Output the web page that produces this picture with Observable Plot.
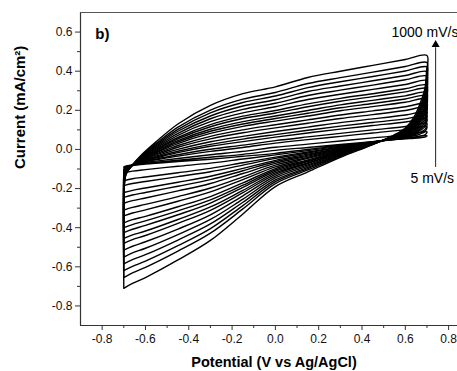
<!DOCTYPE html>
<html><head><meta charset="utf-8">
<script src="https://cdn.jsdelivr.net/npm/d3@7"></script>
<script src="https://cdn.jsdelivr.net/npm/@observablehq/plot@0.6"></script>
<style>html,body{margin:0;padding:0;background:#fff;overflow:hidden} svg{display:block}</style>
</head><body><div id="chart"></div>
<script>
// scan rates (mV/s), slowest to fastest
const scanRates = [5, 10, 20, 30, 40, 50, 60, 70, 80, 90, 100, 150, 200, 300, 400, 500, 600, 700, 800, 1000];

// potentials (V) of the forward (anodic) and reverse (cathodic) sweeps
const forwardE = [-0.7, -0.698, -0.69, -0.66, -0.62, -0.55, -0.45, -0.3, -0.15, 0, 0.15, 0.3, 0.45, 0.6, 0.7];
const reverseE = [0.7, 0.698, 0.69, 0.67, 0.64, 0.6, 0.55, 0.45, 0.3, 0.15, 0, -0.15, -0.3, -0.45, -0.6, -0.66, -0.7];

// current density (mA/cm2) on the forward sweep, one row per scan rate
const anodic = [
  [-0.09, -0.088, -0.085, -0.08, -0.072, -0.065, -0.055, -0.04, -0.025, -0.005, 0.01, 0.025, 0.04, 0.055, 0.07],
  [-0.12, -0.093, -0.087, -0.08, -0.07, -0.06, -0.046, -0.027, -0.01, 0.011, 0.027, 0.043, 0.059, 0.074, 0.09],
  [-0.16, -0.101, -0.09, -0.08, -0.067, -0.053, -0.034, -0.01, 0.01, 0.032, 0.05, 0.067, 0.084, 0.101, 0.116],
  [-0.185, -0.105, -0.092, -0.08, -0.066, -0.049, -0.027, 0.001, 0.022, 0.045, 0.064, 0.082, 0.1, 0.117, 0.133],
  [-0.22, -0.112, -0.095, -0.08, -0.063, -0.043, -0.016, 0.016, 0.04, 0.063, 0.084, 0.104, 0.122, 0.14, 0.156],
  [-0.245, -0.116, -0.096, -0.08, -0.062, -0.039, -0.009, 0.026, 0.053, 0.076, 0.098, 0.119, 0.138, 0.156, 0.173],
  [-0.275, -0.121, -0.098, -0.08, -0.06, -0.034, 0.0, 0.039, 0.067, 0.092, 0.114, 0.137, 0.156, 0.176, 0.192],
  [-0.31, -0.128, -0.101, -0.08, -0.057, -0.028, 0.011, 0.054, 0.085, 0.11, 0.134, 0.158, 0.178, 0.199, 0.216],
  [-0.34, -0.133, -0.103, -0.08, -0.055, -0.023, 0.02, 0.067, 0.1, 0.126, 0.151, 0.176, 0.197, 0.218, 0.235],
  [-0.375, -0.14, -0.106, -0.08, -0.053, -0.017, 0.03, 0.082, 0.118, 0.145, 0.171, 0.198, 0.219, 0.241, 0.259],
  [-0.4, -0.144, -0.108, -0.08, -0.051, -0.013, 0.038, 0.093, 0.13, 0.158, 0.185, 0.213, 0.235, 0.258, 0.275],
  [-0.425, -0.149, -0.109, -0.08, -0.049, -0.008, 0.045, 0.103, 0.142, 0.171, 0.199, 0.228, 0.251, 0.274, 0.291],
  [-0.455, -0.154, -0.112, -0.08, -0.047, -0.003, 0.054, 0.116, 0.158, 0.186, 0.218, 0.246, 0.27, 0.294, 0.311],
  [-0.48, -0.158, -0.113, -0.08, -0.046, 0.001, 0.061, 0.127, 0.17, 0.199, 0.233, 0.261, 0.285, 0.31, 0.328],
  [-0.515, -0.165, -0.116, -0.08, -0.043, 0.007, 0.072, 0.142, 0.187, 0.218, 0.255, 0.282, 0.307, 0.332, 0.351],
  [-0.55, -0.171, -0.118, -0.08, -0.041, 0.013, 0.082, 0.157, 0.205, 0.236, 0.276, 0.303, 0.329, 0.356, 0.374],
  [-0.585, -0.177, -0.121, -0.08, -0.038, 0.019, 0.093, 0.171, 0.222, 0.254, 0.296, 0.324, 0.351, 0.378, 0.397],
  [-0.62, -0.184, -0.123, -0.08, -0.036, 0.025, 0.103, 0.187, 0.24, 0.273, 0.316, 0.346, 0.373, 0.401, 0.421],
  [-0.655, -0.19, -0.126, -0.08, -0.034, 0.031, 0.114, 0.201, 0.257, 0.291, 0.337, 0.367, 0.395, 0.424, 0.444],
  [-0.71, -0.2, -0.13, -0.08, -0.03, 0.04, 0.13, 0.225, 0.285, 0.32, 0.368, 0.4, 0.43, 0.46, 0.48]
];

// current density (mA/cm2) on the reverse sweep, one row per scan rate
const cathodic = [
  [0.07, 0.066, 0.063, 0.06, 0.057, 0.054, 0.05, 0.04, 0.02, 0.0, -0.02, -0.035, -0.05, -0.062, -0.075, -0.082, -0.09],
  [0.09, 0.082, 0.075, 0.069, 0.062, 0.057, 0.051, 0.039, 0.017, -0.006, -0.028, -0.049, -0.07, -0.086, -0.103, -0.111, -0.12],
  [0.116, 0.104, 0.091, 0.08, 0.069, 0.06, 0.053, 0.038, 0.013, -0.013, -0.039, -0.068, -0.097, -0.119, -0.141, -0.15, -0.16],
  [0.133, 0.117, 0.101, 0.088, 0.074, 0.063, 0.054, 0.038, 0.011, -0.018, -0.046, -0.08, -0.114, -0.139, -0.164, -0.174, -0.185],
  [0.156, 0.136, 0.115, 0.098, 0.08, 0.066, 0.055, 0.037, 0.007, -0.024, -0.056, -0.097, -0.137, -0.168, -0.197, -0.209, -0.22],
  [0.173, 0.15, 0.125, 0.105, 0.084, 0.068, 0.056, 0.036, 0.005, -0.029, -0.063, -0.109, -0.154, -0.188, -0.22, -0.233, -0.245],
  [0.192, 0.166, 0.137, 0.114, 0.089, 0.071, 0.058, 0.036, 0.002, -0.034, -0.071, -0.123, -0.174, -0.212, -0.248, -0.262, -0.275],
  [0.216, 0.185, 0.151, 0.124, 0.095, 0.074, 0.059, 0.035, -0.001, -0.041, -0.08, -0.14, -0.197, -0.241, -0.281, -0.296, -0.31],
  [0.235, 0.201, 0.163, 0.133, 0.101, 0.077, 0.06, 0.034, -0.004, -0.046, -0.089, -0.154, -0.217, -0.265, -0.309, -0.325, -0.34],
  [0.259, 0.22, 0.177, 0.143, 0.107, 0.08, 0.062, 0.033, -0.008, -0.053, -0.098, -0.171, -0.241, -0.293, -0.342, -0.359, -0.375],
  [0.275, 0.233, 0.187, 0.15, 0.111, 0.082, 0.063, 0.033, -0.01, -0.058, -0.105, -0.183, -0.258, -0.314, -0.365, -0.384, -0.4],
  [0.291, 0.246, 0.196, 0.157, 0.115, 0.084, 0.064, 0.032, -0.012, -0.062, -0.112, -0.194, -0.274, -0.334, -0.388, -0.408, -0.425],
  [0.311, 0.263, 0.209, 0.166, 0.121, 0.087, 0.065, 0.031, -0.015, -0.068, -0.12, -0.209, -0.294, -0.358, -0.417, -0.437, -0.455],
  [0.328, 0.276, 0.218, 0.173, 0.125, 0.089, 0.066, 0.031, -0.018, -0.072, -0.127, -0.221, -0.311, -0.378, -0.44, -0.461, -0.48],
  [0.351, 0.295, 0.232, 0.183, 0.131, 0.092, 0.067, 0.03, -0.021, -0.079, -0.136, -0.237, -0.334, -0.407, -0.472, -0.495, -0.515],
  [0.374, 0.314, 0.246, 0.194, 0.137, 0.096, 0.069, 0.029, -0.025, -0.085, -0.146, -0.254, -0.358, -0.435, -0.505, -0.529, -0.55],
  [0.397, 0.333, 0.26, 0.204, 0.143, 0.099, 0.07, 0.028, -0.028, -0.092, -0.156, -0.27, -0.381, -0.463, -0.538, -0.563, -0.585],
  [0.421, 0.352, 0.274, 0.214, 0.149, 0.102, 0.071, 0.027, -0.031, -0.098, -0.165, -0.287, -0.405, -0.492, -0.571, -0.598, -0.62],
  [0.444, 0.37, 0.288, 0.224, 0.155, 0.105, 0.073, 0.026, -0.035, -0.105, -0.175, -0.304, -0.428, -0.52, -0.603, -0.631, -0.655],
  [0.48, 0.4, 0.31, 0.24, 0.165, 0.11, 0.075, 0.025, -0.04, -0.115, -0.19, -0.33, -0.465, -0.565, -0.655, -0.685, -0.71]
];

// axis ticks
const xMajor = [-0.8, -0.6, -0.4, -0.2, 0, 0.2, 0.4, 0.6, 0.8];
const xMinor = [-0.7, -0.5, -0.3, -0.1, 0.1, 0.3, 0.5, 0.7];
const yMajor = [-0.8, -0.6, -0.4, -0.2, 0, 0.2, 0.4, 0.6];
const yMinor = [-0.7, -0.5, -0.3, -0.1, 0.1, 0.3, 0.5];

// annotations
const panelLabel = "b)";
const fastLabel = "1000 mV/s";
const slowLabel = "5 mV/s";
const xTitle = "Potential (V vs Ag/AgCl)";
const yTitle = "Current (mA/cm\u00B2)";

// build loop table
const rows = [];
scanRates.forEach((rate, i) => {
  forwardE.forEach((e, j) => rows.push({rate, E: e, I: anodic[i][j]}));
  reverseE.forEach((e, j) => { if (j > 0) rows.push({rate, E: e, I: cathodic[i][j]}); });
});

const fmt = d => d.toFixed(1);
const font = "'Liberation Sans', Arial, Helvetica, sans-serif";

const chart = Plot.plot({
  width: 457,
  height: 371,
  marginLeft: 80,
  marginRight: 0,
  marginTop: 12,
  marginBottom: 46,
  style: {fontFamily: font, background: "#fff", color: "#111"},
  x: {domain: [-0.9, 0.841]},
  y: {domain: [-0.9, 0.7]},
  marks: [
    Plot.line(rows, {x: "E", y: "I", z: "rate", stroke: "#000", strokeWidth: 1.4, curve: "catmull-rom"}),
    Plot.ruleX([-0.9], {stroke: "#333", strokeWidth: 1.2}),
    Plot.ruleY([-0.9], {stroke: "#333", strokeWidth: 1.2}),
    Plot.ruleY([0.7], {stroke: "#555", strokeWidth: 1.2}),
    Plot.axisX({ticks: xMajor, tickSize: 5, tickPadding: 4, tickFormat: fmt, fontSize: 12, label: null, stroke: "#333"}),
    Plot.axisX({ticks: xMinor, tickSize: 3, tickFormat: () => "", label: null, stroke: "#333"}),
    Plot.axisY({ticks: yMajor, tickSize: 5, tickPadding: 3, tickFormat: fmt, fontSize: 12, label: null, stroke: "#333"}),
    Plot.axisY({ticks: yMinor, tickSize: 3, tickFormat: () => "", label: null, stroke: "#333"}),
    Plot.text([yTitle], {frameAnchor: "left", dx: -60, rotate: -90, fontSize: 15, fontWeight: "bold", fill: "#000"}),
    Plot.text([xTitle], {frameAnchor: "bottom", dx: 5, dy: 41, fontSize: 14.5, fontWeight: "bold", fill: "#000"}),
    Plot.text([panelLabel], {x: -0.832, y: 0.567, textAnchor: "start", lineAnchor: "bottom", fontSize: 15, fontWeight: "bold", fill: "#000"}),
    Plot.text([fastLabel], {x: 0.536, y: 0.575, textAnchor: "start", lineAnchor: "bottom", fontSize: 14, fill: "#000"}),
    Plot.text([slowLabel], {x: 0.624, y: -0.172, textAnchor: "start", lineAnchor: "bottom", fontSize: 14, fill: "#000"}),
    Plot.ruleX([0.74], {y1: -0.092, y2: 0.52, stroke: "#222", strokeWidth: 1}),
    Plot.dot([0.74], {x: d => d, y: 0.535, symbol: "triangle", r: 3, fill: "#000", stroke: "none"})
  ]
});
document.getElementById("chart").appendChild(chart);
</script>
</body></html>
